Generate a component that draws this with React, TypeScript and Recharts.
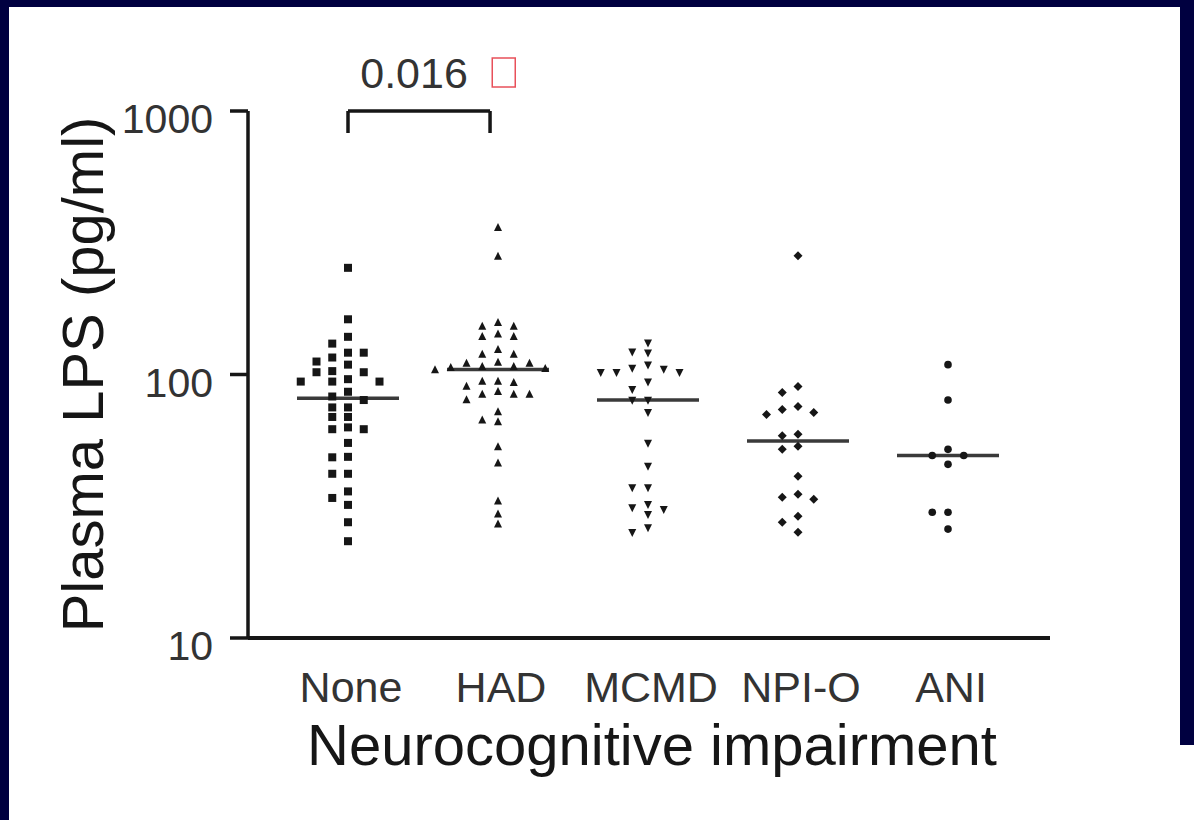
import { ScatterChart, Scatter, XAxis, YAxis, ReferenceLine, ReferenceDot } from "recharts";

const categories = ["None", "HAD", "MCMD", "NPI-O", "ANI"];

// plasma LPS, pg/ml
const noneValues = [254, 162, 139, 131, 121, 121, 116, 112, 109, 103, 102, 102, 96, 94, 94, 94, 86, 82.5, 80, 75, 75, 69, 69, 63, 62, 62, 55, 48.5, 48.7, 42, 42, 36, 34, 32, 27.5, 23.3];
const hadValues = [360, 280, 157, 152, 152, 142, 139, 139, 124, 119, 119, 111, 110, 110, 107, 107, 105, 106, 104, 94, 94, 93, 90, 86, 84, 84, 84, 80, 72, 67, 66, 53, 46, 33, 29.5, 27];
const mcmdValues = [132, 122, 121, 109, 106, 105, 102, 102, 102, 94, 88, 80, 80, 72, 55, 45, 37.3, 37.3, 32.2, 31.3, 30.8, 29.5, 26.3, 25.2];
const npiValues = [282, 90, 85.5, 75.6, 73.7, 71.8, 70.5, 59.3, 58.5, 53.4, 52, 41.1, 35.1, 34.2, 33.6, 29, 27.5, 25.2];
const aniValues = [109, 80, 52, 49.3, 49.3, 45.6, 30, 30, 25.9];

const yTicks = [10, 100, 1000];
const pValue = "0.016";

const FONT = "'Liberation Sans', Arial, Helvetica, sans-serif";
const INK = "#161616";

// simple dot-plot layout: put each point in the nearest free lane
function swarm(values: number[], center: number) {
  const step = 0.105;
  const gap = 0.036;
  const placed: { lane: number; l: number }[] = [];
  const sorted = [...values].sort((a, b) => b - a);
  return sorted.map((v) => {
    const l = Math.log10(v);
    for (let k = 0; k < 20; k++) {
      const lanes = k === 0 ? [0] : [-k, k];
      for (const lane of lanes) {
        if (!placed.some((p) => p.lane === lane && Math.abs(p.l - l) < gap)) {
          placed.push({ lane, l });
          return { x: center + lane * step, y: v };
        }
      }
    }
    return { x: center, y: v };
  });
}

function median(values: number[]) {
  const s = [...values].sort((a, b) => a - b);
  const m = Math.floor(s.length / 2);
  return s.length % 2 ? s[m] : (s[m - 1] + s[m]) / 2;
}

const groups = [noneValues, hadValues, mcmdValues, npiValues, aniValues];

const square = (size: number) => (p: any) => (
  <rect x={p.cx - size / 2} y={p.cy - size / 2} width={size} height={size} fill={INK} />
);
const triUp = (s: number) => (p: any) => (
  <polygon
    points={`${p.cx},${p.cy - s * 0.6} ${p.cx + s / 2},${p.cy + s * 0.4} ${p.cx - s / 2},${p.cy + s * 0.4}`}
    fill={INK}
  />
);
const triDown = (s: number) => (p: any) => (
  <polygon
    points={`${p.cx},${p.cy + s * 0.6} ${p.cx + s / 2},${p.cy - s * 0.4} ${p.cx - s / 2},${p.cy - s * 0.4}`}
    fill={INK}
  />
);
const diamond = (s: number) => (p: any) => (
  <polygon
    points={`${p.cx},${p.cy - s / 2} ${p.cx + s / 2},${p.cy} ${p.cx},${p.cy + s / 2} ${p.cx - s / 2},${p.cy}`}
    fill={INK}
  />
);
const dot = (r: number) => (p: any) => <circle cx={p.cx} cy={p.cy} r={r} fill={INK} />;

const shapes = [square(8), triUp(8), triDown(8), diamond(9), dot(3.8)];

// bracket over None vs HAD
const bracketLeft = 1;
const bracketRight = 1.947;
const bracketTop = 1000;
const bracketFoot = 825;

const YTick = (p: any) => (
  <text x={p.x} y={p.y + 22} textAnchor="end" fontFamily={FONT} fontSize={41} fill="#333">
    {p.payload.value}
  </text>
);

const XTick = (p: any) => (
  <text x={p.x + 3} y={p.y + 62} textAnchor="middle" fontFamily={FONT} fontSize={43} fill="#333">
    {categories[p.payload.value - 1]}
  </text>
);

export default function App() {
  return (
    <div style={{ position: "relative", width: 1194, height: 820, background: "#fff", overflow: "hidden" }}>
      <style>{`body{margin:0}`}</style>
      <ScatterChart width={1194} height={820} margin={{ top: 111, right: 144, bottom: 122, left: 148 }}>
        <XAxis
          type="number"
          dataKey="x"
          domain={[1 / 3, 5.68]}
          ticks={[1, 2, 3, 4, 5]}
          tick={<XTick />}
          tickLine={false}
          tickSize={0}
          height={60}
          stroke={INK}
          strokeWidth={4}
          axisLine={{ stroke: INK, strokeWidth: 4 }}
          allowDataOverflow
          label={{
            content: (props: any) => (
              <text
                x={props.viewBox.x + 404}
                y={props.viewBox.y + 127}
                textAnchor="middle"
                fontFamily={FONT}
                fontSize={58}
                fill={INK}
              >
                Neurocognitive impairment
              </text>
            ),
          }}
        />
        <YAxis
          type="number"
          dataKey="y"
          scale="log"
          domain={[10, 1000]}
          ticks={yTicks}
          width={100}
          tickSize={18}
          tickMargin={17}
          tick={<YTick />}
          stroke={INK}
          strokeWidth={3.5}
          tickLine={{ stroke: INK, strokeWidth: 3.5 }}
          axisLine={{ stroke: INK, strokeWidth: 3.5 }}
          allowDataOverflow
          label={{
            content: (props: any) => {
              const x = props.viewBox.x - 45;
              const y = props.viewBox.y + props.viewBox.height / 2;
              return (
                <text
                  x={x}
                  y={y}
                  transform={`rotate(-90, ${x}, ${y})`}
                  textAnchor="middle"
                  fontFamily={FONT}
                  fontSize={58}
                  fill={INK}
                >
                  Plasma LPS (pg/ml)
                </text>
              );
            },
          }}
        />
        {groups.map((vals, i) => (
          <ReferenceLine
            key={"m" + i}
            segment={[
              { x: i + 1 - 0.34, y: median(vals) },
              { x: i + 1 + 0.34, y: median(vals) },
            ]}
            stroke="#3a3a3a"
            strokeWidth={3.5}
          />
        ))}
        {groups.map((vals, i) => (
          <Scatter
            key={categories[i]}
            name={categories[i]}
            data={swarm(vals, i + 1)}
            shape={shapes[i]}
            isAnimationActive={false}
          />
        ))}
        <ReferenceLine
          segment={[{ x: bracketLeft, y: bracketFoot }, { x: bracketLeft, y: bracketTop }]}
          stroke={INK}
          strokeWidth={3.5}
          ifOverflow="visible"
        />
        <ReferenceLine
          segment={[{ x: bracketLeft, y: bracketTop }, { x: bracketRight, y: bracketTop }]}
          stroke={INK}
          strokeWidth={3.5}
          ifOverflow="visible"
        />
        <ReferenceLine
          segment={[{ x: bracketRight, y: bracketTop }, { x: bracketRight, y: bracketFoot }]}
          stroke={INK}
          strokeWidth={3.5}
          ifOverflow="visible"
        />
        <ReferenceDot
          x={1.475}
          y={1000}
          r={0}
          fill="none"
          stroke="none"
          ifOverflow="visible"
          label={{
            content: (props: any) => {
              const cx = props.viewBox.x + props.viewBox.width / 2;
              const cy = props.viewBox.y + props.viewBox.height / 2;
              return (
                <g>
                  <text x={cx - 59} y={cy - 23} fontFamily={FONT} fontSize={43} fill="#333">
                    {pValue}
                  </text>
                  <rect x={cx + 73} y={cy - 53} width={23} height={29} fill="none" stroke="#e8505a" strokeWidth={1.5} />
                </g>
              );
            },
          }}
        />
      </ScatterChart>
      <div style={{ position: "absolute", left: 0, top: 0, width: 1194, height: 7, background: "#000040" }} />
      <div style={{ position: "absolute", left: 0, top: 0, width: 9, height: 820, background: "#000040" }} />
      <div style={{ position: "absolute", left: 1180, top: 0, width: 14, height: 745, background: "#000040" }} />
    </div>
  );
}
